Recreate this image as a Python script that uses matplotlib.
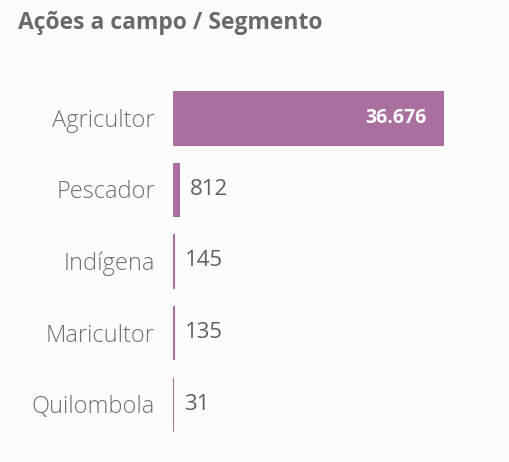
import matplotlib.pyplot as plt

segmentos = ['Agricultor', 'Pescador', 'Indígena', 'Maricultor', 'Quilombola']
acoes = [36676, 812, 145, 135, 31]

cor_barra = '#a96f9e'


def formatar(valor):
    # separador de milhar no estilo pt-BR
    return '{:,}'.format(valor).replace(',', '.')


plt.rcParams['font.family'] = ['Open Sans', 'DejaVu Sans']

fig = plt.figure(figsize=(5.10, 4.62), dpi=100, facecolor='#fcfcfc')
ax = fig.add_axes([173 / 510, 1 - 440 / 462, (480 - 173) / 510, (440 - 82) / 462])
ax.set_facecolor('none')

posicoes = list(range(len(segmentos)))
ax.barh(posicoes, acoes, height=0.75, color=cor_barra, edgecolor=cor_barra, linewidth=0.8)

ax.set_xlim(0, acoes[0] * (480 - 173) / 270)
ax.set_ylim(len(segmentos) - 0.5, -0.5)

ax.set_yticks(posicoes)
ax.set_yticklabels(segmentos, fontsize=17, color='#707070', fontweight='light')
ax.tick_params(axis='y', length=0, pad=13)
ax.set_xticks([])
for lado in ax.spines.values():
    lado.set_visible(False)

maximo = max(acoes)
for pos, valor in zip(posicoes, acoes):
    if valor > maximo * 0.3:
        ax.annotate(formatar(valor), (valor, pos), xytext=(-12, 0), textcoords='offset points',
                    ha='right', va='center', fontsize=14, fontweight='bold', color='white')
    else:
        ax.annotate(formatar(valor), (valor, pos), xytext=(8, 0), textcoords='offset points',
                    ha='left', va='center', fontsize=16, color='#606060')

fig.text(18 / 510, 1 - 23 / 462, 'Ações a campo / Segmento', ha='left', va='center',
         fontsize=16.5, fontweight='bold', color='#6a6a6a')

fig.savefig('out.png', dpi=100, facecolor=fig.get_facecolor())
